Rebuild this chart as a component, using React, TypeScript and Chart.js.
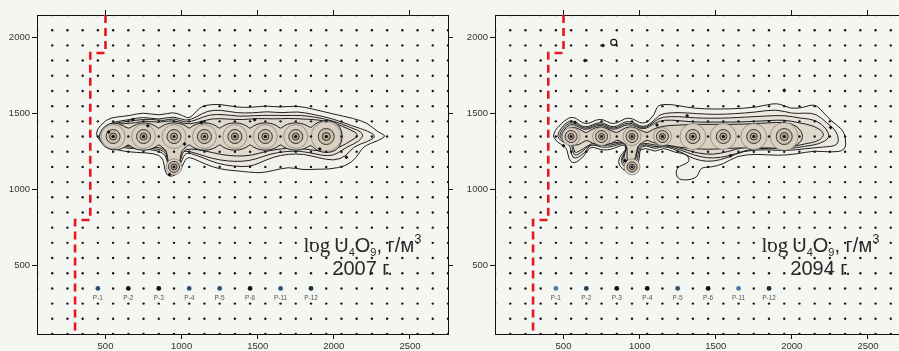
import { useEffect, useRef } from "react";
import { Chart, registerables } from "chart.js";

Chart.register(...registerables);

// Axis ticks
const xTicks = [500, 1000, 1500, 2000, 2500];
const yTicks = [500, 1000, 1500, 2000];

// Observation grid nodes
const gridX = [50, 150, 250, 350, 450, 550, 650, 750, 850, 950, 1050, 1150, 1250, 1350, 1450, 1550, 1650, 1750, 1850, 1950, 2050, 2150, 2250, 2350, 2450, 2550, 2650, 2750];
const gridY = [50, 150, 250, 350, 450, 550, 650, 750, 850, 950, 1050, 1150, 1250, 1350, 1450, 1550, 1650, 1750, 1850, 1950, 2050, 2150];

// Monitoring wells
const wellNames = ["P-1", "P-2", "P-3", "P-4", "P-5", "P-6", "P-11", "P-12"];
const wellX = [450, 650, 850, 1050, 1250, 1450, 1650, 1850];
const wellY = [350, 350, 350, 350, 350, 350, 350, 350];

// Leaching cells: the row of eight plus the southern cell
const cellX = [550, 750, 950, 1150, 1350, 1550, 1750, 1950, 950];
const cellY = [1350, 1350, 1350, 1350, 1350, 1350, 1350, 1350, 1150];

// Boundary (red dashed)
const boundaryX = [500, 500, 400, 400, 300, 300];
const boundaryY = [2150, 1900, 1900, 800, 800, 50];

// Contours, 2007 (outer to inner)
const c2007a = [[428,1377],[504,1465],[580,1480],[658,1487],[746,1509],[855,1487],[943,1513],[1009,1487],[1053,1465],[1118,1542],[1162,1557],[1250,1564],[1360,1542],[1469,1542],[1557,1553],[1645,1542],[1754,1553],[1864,1531],[1996,1498],[2127,1470],[2220,1440],[2290,1378],[2347,1355],[2290,1322],[2190,1285],[2150,1210],[2080,1155],[1970,1135],[1880,1135],[1800,1130],[1700,1150],[1600,1125],[1520,1110],[1450,1115],[1350,1125],[1250,1135],[1150,1170],[1080,1205],[1030,1215],[1000,1140],[960,1095],[920,1085],[890,1115],[880,1210],[820,1240],[700,1245],[600,1255],[520,1280],[470,1310]];
const c2007b = [[470,1360],[520,1440],[650,1460],[750,1480],[850,1460],[950,1485],[1030,1450],[1100,1480],[1170,1520],[1260,1525],[1360,1505],[1470,1505],[1560,1515],[1660,1505],[1760,1515],[1870,1495],[2000,1465],[2120,1420],[2230,1385],[2280,1350],[2220,1315],[2130,1285],[2080,1220],[2000,1190],[1900,1210],[1800,1235],[1700,1235],[1600,1215],[1510,1175],[1440,1150],[1340,1155],[1240,1170],[1140,1210],[1060,1240],[1020,1240],[990,1160],[950,1115],[915,1125],[905,1200],[880,1245],[800,1265],[680,1270],[580,1280],[500,1310]];
const c2007b2 = [[480,1358],[525,1432],[630,1448],[720,1460],[800,1465],[880,1452],[950,1472],[1025,1440],[1100,1460],[1180,1495],[1280,1495],[1380,1482],[1480,1488],[1580,1490],[1680,1488],[1780,1490],[1880,1478],[2000,1452],[2110,1410],[2200,1372],[2170,1318],[2085,1282],[2020,1235],[1960,1220],[1880,1235],[1780,1255],[1680,1252],[1580,1235],[1485,1200],[1400,1185],[1300,1188],[1200,1205],[1110,1235],[1040,1255],[1000,1250],[990,1170],[950,1122],[918,1132],[910,1205],[885,1258],[800,1275],[680,1280],[580,1288],[510,1310]];
const c2007c = [[490,1355],[530,1425],[620,1435],[700,1440],[760,1455],[850,1440],[950,1460],[1020,1430],[1100,1440],[1200,1470],[1300,1465],[1400,1460],[1500,1470],[1600,1465],[1700,1470],[1800,1465],[1900,1460],[2000,1440],[2100,1400],[2170,1360],[2110,1320],[2040,1280],[1960,1250],[1860,1260],[1760,1275],[1660,1270],[1560,1255],[1460,1225],[1360,1220],[1260,1230],[1160,1255],[1060,1270],[1010,1260],[990,1180],[950,1130],[920,1140],[915,1210],[890,1270],[800,1285],[680,1290],[580,1295],[520,1310]];
const c2007d = [[455,1350],[475,1400],[520,1435],[570,1440],[620,1420],[650,1400],[680,1420],[730,1440],[780,1440],[830,1420],[850,1400],[870,1420],[920,1440],[980,1440],[1030,1420],[1050,1400],[1070,1420],[1120,1440],[1180,1440],[1230,1420],[1250,1400],[1270,1420],[1320,1440],[1380,1440],[1430,1420],[1450,1400],[1470,1420],[1520,1440],[1580,1440],[1630,1420],[1650,1400],[1670,1420],[1720,1440],[1780,1440],[1830,1420],[1850,1405],[1870,1430],[1920,1455],[1990,1455],[2040,1420],[2060,1350],[2040,1280],[1990,1245],[1920,1245],[1870,1270],[1850,1295],[1830,1280],[1780,1260],[1720,1260],[1670,1280],[1650,1300],[1630,1280],[1580,1260],[1520,1260],[1470,1280],[1450,1300],[1430,1280],[1380,1260],[1320,1260],[1270,1280],[1250,1300],[1230,1280],[1180,1260],[1120,1260],[1070,1280],[1050,1300],[1030,1280],[1000,1260],[990,1200],[980,1130],[950,1105],[920,1130],[910,1200],[900,1260],[870,1280],[850,1300],[830,1280],[780,1260],[720,1260],[670,1280],[650,1300],[630,1280],[580,1260],[520,1265],[475,1300]];

// Contours, 2094 (outer to inner)
const c2094a = [[424,1366],[500,1454],[566,1487],[643,1421],[742,1476],[829,1421],[928,1487],[1027,1421],[1103,1498],[1114,1557],[1202,1564],[1312,1542],[1421,1531],[1597,1531],[1772,1542],[1904,1575],[1991,1531],[2079,1542],[2145,1564],[2189,1531],[2255,1454],[2332,1399],[2354,1344],[2354,1257],[2255,1246],[2145,1257],[2036,1235],[1904,1224],[1772,1235],[1641,1224],[1553,1169],[1465,1147],[1399,1147],[1377,1070],[1246,1059],[1235,1147],[1334,1180],[1312,1235],[1224,1246],[1158,1279],[1103,1246],[1038,1279],[983,1246],[994,1169],[950,1125],[917,1114],[862,1158],[862,1213],[917,1268],[895,1301],[829,1268],[752,1257],[676,1290],[632,1213],[566,1169],[533,1202],[522,1279],[456,1312]];
const c2094b = [[455,1360],[510,1440],[566,1460],[640,1400],[742,1455],[829,1400],[928,1465],[1027,1400],[1110,1470],[1140,1500],[1250,1510],[1380,1500],[1500,1495],[1620,1500],[1760,1510],[1900,1530],[2000,1500],[2090,1505],[2160,1500],[2230,1440],[2300,1380],[2310,1290],[2200,1280],[2090,1270],[1960,1255],[1820,1265],[1680,1255],[1580,1210],[1480,1185],[1400,1190],[1330,1215],[1270,1250],[1160,1290],[1100,1265],[1040,1295],[1000,1270],[1000,1190],[960,1140],[925,1130],[880,1170],[880,1215],[920,1265],[900,1310],[830,1285],[750,1275],[680,1305],[640,1240],[575,1200],[550,1230],[545,1295],[480,1320]];
const c2094b2 = [[468,1358],[515,1430],[568,1448],[640,1392],[742,1445],[829,1392],[928,1452],[1027,1395],[1105,1455],[1150,1480],[1255,1482],[1365,1472],[1475,1470],[1585,1472],[1700,1478],[1830,1485],[1950,1490],[2060,1470],[2160,1460],[2230,1400],[2250,1340],[2180,1300],[2085,1285],[1975,1268],[1850,1272],[1730,1270],[1630,1235],[1530,1210],[1440,1208],[1355,1228],[1275,1260],[1165,1295],[1100,1278],[1040,1302],[995,1280],[990,1200],[955,1150],[925,1142],[888,1180],[890,1228],[922,1278],[890,1315],[815,1292],[725,1292],[670,1298],[620,1245],[572,1220],[558,1265],[555,1298],[495,1320]];
const c2094c = [[480,1355],[520,1420],[570,1435],[640,1385],[742,1435],[829,1385],[928,1440],[1027,1390],[1100,1440],[1160,1460],[1260,1455],[1350,1445],[1450,1445],[1550,1445],[1650,1445],[1750,1450],[1850,1455],[1950,1460],[2050,1440],[2150,1420],[2220,1370],[2180,1320],[2080,1300],[1990,1280],[1880,1280],[1780,1285],[1680,1280],[1580,1250],[1480,1230],[1380,1240],[1280,1270],[1170,1300],[1100,1290],[1040,1310],[990,1290],[980,1210],[950,1160],[925,1155],[895,1190],[900,1240],[925,1290],[880,1320],[800,1300],[700,1310],[660,1290],[600,1250],[570,1240],[565,1300],[510,1320]];
const c2094d = [[500,1350],[530,1405],[570,1415],[620,1390],[650,1370],[680,1395],[742,1420],[800,1395],[850,1370],[880,1395],[940,1420],[1000,1395],[1050,1370],[1080,1395],[1150,1420],[1250,1425],[1350,1430],[1450,1430],[1550,1430],[1650,1430],[1750,1435],[1850,1440],[1950,1445],[2040,1420],[2080,1350],[2040,1290],[1950,1270],[1850,1275],[1750,1275],[1650,1275],[1550,1270],[1450,1265],[1350,1270],[1250,1280],[1150,1300],[1080,1310],[1050,1330],[1020,1310],[985,1290],[975,1210],[950,1170],[925,1175],[915,1210],[920,1290],[880,1315],[850,1330],[820,1305],[750,1290],[690,1305],[650,1330],[620,1305],[580,1290],[530,1300]];

// Isoline value marks and isolated spots
const marks2007X = [680, 778, 1020, 1130, 1480, 1908, 2083, 921, 520];
const marks2007Y = [1461, 1421, 1301, 1443, 1461, 1268, 1213, 1100, 1380];
const marks2094X = [577, 1312, 1114, 1597, 2255, 906, 500, 760, 640, 1950];
const marks2094Y = [1443, 1487, 1426, 1224, 1410, 1191, 1290, 1950, 1850, 1655];
const loops2094X = [830];
const loops2094Y = [1970];

const FILLS = ["#f2f0ea", "#ece8e0", "#e6e1d7", "#e0d9cd", "#dad1c2"];
const SANS = '"Liberation Sans", Arial, sans-serif';
const SERIF = '"Liberation Serif", "Times New Roman", serif';
const PURPLE = "#7b3f8e";
const STEEL = "#2f5273";

type Spec = {
  year: string;
  contours: number[][][];
  marksX: number[];
  marksY: number[];
  loopsX: number[];
  loopsY: number[];
  haloR: number[];
  ringR: number[];
  innerR: number[];
  centerColors: string[];
  wellColors: string[];
};

const spec2007: Spec = {
  year: "2007 г.",
  contours: [c2007a, c2007b, c2007b2, c2007c, c2007d],
  marksX: marks2007X,
  marksY: marks2007Y,
  loopsX: [],
  loopsY: [],
  haloR: [12, 12, 12, 12, 12, 12, 12, 15, 8],
  ringR: [7, 7, 7, 7, 7, 7, 7, 8, 5.5],
  innerR: [3.5, 3.5, 3.5, 3.5, 3.5, 3.5, 3.5, 4, 3],
  centerColors: ["#111", "#111", PURPLE, PURPLE, "#111", "#111", "#111", "#111", PURPLE],
  wellColors: [STEEL, "#111", "#111", STEEL, STEEL, "#111", STEEL, "#1d2b3a"],
};

const spec2094: Spec = {
  year: "2094 г.",
  contours: [c2094a, c2094b, c2094b2, c2094c, c2094d],
  marksX: marks2094X,
  marksY: marks2094Y,
  loopsX: loops2094X,
  loopsY: loops2094Y,
  haloR: [9, 9, 9, 9, 13, 13, 13, 14, 8],
  ringR: [6, 6, 6, 6, 7, 7, 7, 8, 5],
  innerR: [3, 3, 3, 3, 3.5, 3.5, 3.5, 4, 2.8],
  centerColors: [PURPLE, PURPLE, PURPLE, "#333", "#111", "#111", "#111", "#111", PURPLE],
  wellColors: ["#4b7aa6", "#1f3f5f", "#111", "#111", STEEL, "#111", "#4b7aa6", "#1d2b3a"],
};

const zip = (xs: number[], ys: number[]) => xs.map((x, i) => ({ x, y: ys[i] }));

function smoothClosed(ctx: CanvasRenderingContext2D, p: number[][]) {
  const n = p.length;
  const mid = (a: number[], b: number[]) => [(a[0] + b[0]) / 2, (a[1] + b[1]) / 2];
  ctx.beginPath();
  const m0 = mid(p[n - 1], p[0]);
  ctx.moveTo(m0[0], m0[1]);
  for (let i = 0; i < n; i++) {
    const nm = mid(p[i], p[(i + 1) % n]);
    ctx.quadraticCurveTo(p[i][0], p[i][1], nm[0], nm[1]);
  }
  ctx.closePath();
}

function overlay(spec: Spec) {
  return {
    id: "overlay",
    beforeDatasetsDraw(chart: any) {
      const { ctx, chartArea: a, scales } = chart;
      const sx = scales.x, sy = scales.y;
      ctx.save();
      ctx.beginPath();
      ctx.rect(a.left, a.top, a.right - a.left, a.bottom - a.top);
      ctx.clip();
      spec.contours.forEach((poly, k) => {
        const pts = poly.map(([vx, vy]) => [sx.getPixelForValue(vx), sy.getPixelForValue(vy)]);
        smoothClosed(ctx, pts);
        ctx.fillStyle = FILLS[k];
        ctx.fill();
        ctx.strokeStyle = "#1f1f1f";
        ctx.lineWidth = 1;
        ctx.stroke();
      });
      ctx.restore();
    },
    afterDatasetsDraw(chart: any) {
      const { ctx, scales } = chart;
      const sx = scales.x, sy = scales.y;
      ctx.save();
      // well captions
      ctx.font = `6.5px ${SANS}`;
      ctx.fillStyle = "#555";
      ctx.textAlign = "center";
      ctx.textBaseline = "middle";
      wellNames.forEach((name, i) => {
        ctx.fillText(name, sx.getPixelForValue(wellX[i]), sy.getPixelForValue(wellY[i]) + 9.5);
      });
      // legend caption
      ctx.fillStyle = "#2a2a2a";
      ctx.textAlign = "left";
      ctx.textBaseline = "alphabetic";
      const parts = [
        { t: "log", f: `21px ${SERIF}`, dy: 0, gap: 4 },
        { t: "U", f: `20px ${SANS}`, dy: 0, gap: 0 },
        { t: "4", f: `11px ${SANS}`, dy: 4, gap: 0 },
        { t: "O", f: `20px ${SANS}`, dy: 0, gap: 0 },
        { t: "9", f: `11px ${SANS}`, dy: 4, gap: 0 },
        { t: ", г/м", f: `20px ${SANS}`, dy: 0, gap: 0 },
        { t: "3", f: `13px ${SANS}`, dy: -9, gap: 0 },
      ];
      let x = sx.getPixelForValue(1800);
      const y = sy.getPixelForValue(592);
      for (const p of parts) {
        ctx.font = p.f;
        ctx.fillText(p.t, x, y + p.dy);
        x += ctx.measureText(p.t).width + p.gap;
      }
      ctx.font = `20px ${SANS}`;
      ctx.fillText(spec.year, sx.getPixelForValue(1990), sy.getPixelForValue(440));
      ctx.restore();
    },
  };
}

function axisCommon(min: number, max: number, ticks: number[], labels: boolean) {
  return {
    type: "linear" as const,
    display: true,
    min,
    max,
    afterBuildTicks: (s: any) => {
      s.ticks = ticks.map((v) => ({ value: v }));
    },
    grid: { drawOnChartArea: false, drawTicks: true, tickLength: 5, color: "#111", lineWidth: 1 },
    border: { display: true, color: "#111", width: 1 },
    ticks: {
      display: labels,
      autoSkip: false,
      maxRotation: 0,
      padding: 2,
      color: "#333",
      font: { family: SANS, size: 9.5 },
      callback: (v: number) => String(v),
    },
  };
}

function buildConfig(spec: Spec): any {
  const cells = zip(cellX, cellY);
  const grid = gridY.flatMap((y) => gridX.map((x) => ({ x, y })));
  return {
    type: "scatter",
    data: {
      datasets: [
        {
          data: zip(boundaryX, boundaryY),
          showLine: true,
          borderColor: "#e8161e",
          borderWidth: 2.6,
          borderDash: [8, 5],
          pointRadius: 0,
          tension: 0,
          fill: false,
          order: 1,
        },
        {
          data: zip(wellX, wellY),
          pointRadius: 2.4,
          pointBackgroundColor: spec.wellColors,
          pointBorderWidth: 0,
          order: 2,
        },
        {
          data: zip(spec.marksX, spec.marksY),
          pointRadius: 2,
          pointStyle: "rectRot",
          pointBackgroundColor: "#111",
          pointBorderWidth: 0,
          order: 3,
        },
        {
          data: zip(spec.loopsX, spec.loopsY),
          pointRadius: 3,
          pointBackgroundColor: "rgba(0,0,0,0)",
          pointBorderColor: "#111",
          pointBorderWidth: 1.2,
          order: 3,
        },
        {
          data: grid,
          pointRadius: 1.2,
          pointBackgroundColor: "#161616",
          pointBorderWidth: 0,
          order: 4,
        },
        {
          data: cells,
          pointRadius: 1.6,
          pointBackgroundColor: spec.centerColors,
          pointBorderWidth: 0,
          order: 5,
        },
        {
          data: cells,
          pointRadius: spec.innerR,
          pointBackgroundColor: "#b9a78e",
          pointBorderColor: "#222",
          pointBorderWidth: 0.9,
          order: 6,
        },
        {
          data: cells,
          pointRadius: spec.ringR,
          pointBackgroundColor: "#ccc0ad",
          pointBorderColor: "#222",
          pointBorderWidth: 0.9,
          order: 7,
        },
        {
          data: cells,
          pointRadius: spec.haloR,
          pointBackgroundColor: "#d9d0c1",
          pointBorderColor: "#6a6a6a",
          pointBorderWidth: 0.6,
          order: 8,
        },
      ],
    },
    options: {
      animation: false,
      responsive: false,
      devicePixelRatio: 1,
      events: [],
      layout: { padding: 0, autoPadding: false },
      plugins: { legend: { display: false }, tooltip: { enabled: false } },
      scales: {
        x: {
          ...axisCommon(50, 2750, xTicks, true),
          position: "bottom",
          afterFit: (s: any) => {
            s.height = 17;
          },
        },
        xTop: {
          ...axisCommon(50, 2750, xTicks, false),
          axis: "x",
          position: "top",
          afterFit: (s: any) => {
            s.height = 15;
          },
        },
        y: {
          ...axisCommon(50, 2150, yTicks, true),
          position: "left",
          afterFit: (s: any) => {
            s.width = 37;
          },
        },
        yRight: {
          ...axisCommon(50, 2150, yTicks, false),
          axis: "y",
          position: "right",
          afterFit: (s: any) => {
            s.width = 10;
          },
        },
      },
    },
    plugins: [overlay(spec)],
  };
}

function Panel({ spec, left }: { spec: Spec; left: number }) {
  const ref = useRef<HTMLCanvasElement>(null);
  useEffect(() => {
    const chart = new Chart(ref.current as HTMLCanvasElement, buildConfig(spec));
    return () => chart.destroy();
  }, [spec]);
  return (
    <canvas
      ref={ref}
      width={458}
      height={351}
      style={{ position: "absolute", left, top: 0, width: 458, height: 351 }}
    />
  );
}

export default function App() {
  return (
    <div
      style={{
        position: "fixed",
        left: 0,
        top: 0,
        width: 899,
        height: 351,
        overflow: "hidden",
        background: "#f4f6f2",
      }}
    >
      <Panel spec={spec2007} left={0} />
      <Panel spec={spec2094} left={458} />
    </div>
  );
}
